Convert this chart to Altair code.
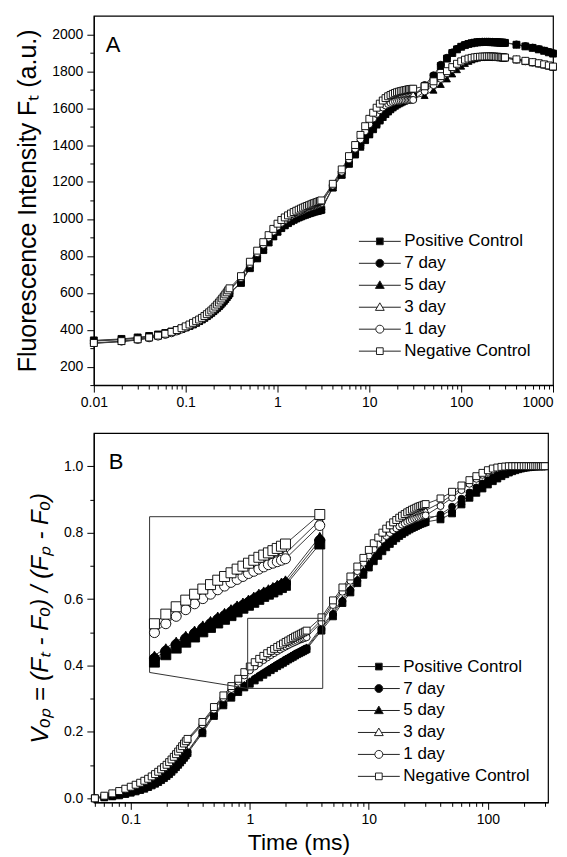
import math
import altair as alt
import pandas as pd

# ---------------------------------------------------------------- data
SERIES = ["Positive Control", "7 day", "5 day", "3 day", "1 day", "Negative Control"]
SHAPES = ["square", "circle", "triangle-up", "triangle-up", "circle", "square"]
FILLS = ["black", "black", "black", "white", "white", "white"]

# Panel A: time (ms) and fluorescence Ft (a.u.)
TIME_A = [0.01, 0.02, 0.03, 0.04, 0.05, 0.06, 0.07, 0.08, 0.09, 0.10,
          0.11, 0.12, 0.13, 0.14, 0.15, 0.16, 0.17, 0.18, 0.19, 0.20,
          0.21, 0.22, 0.23, 0.24, 0.25, 0.26, 0.27, 0.28, 0.29, 0.30,
          0.4, 0.5, 0.6, 0.7, 0.8, 0.9, 1.0, 1.1, 1.2, 1.3, 1.4, 1.5, 1.6, 1.7,
          1.8, 1.9, 2.0, 2.1, 2.2, 2.3, 2.4, 2.5, 2.6, 2.7, 2.8, 2.9, 3.0,
          4, 5, 6, 7, 8, 9, 10, 11, 12, 13, 14, 15, 16, 17, 18, 19, 20,
          21, 22, 23, 24, 25, 26, 27, 28, 29, 30,
          40, 50, 60, 70, 80, 90, 100, 110, 120, 130, 140, 150, 160, 170, 180,
          190, 200, 210, 220, 230, 240, 250, 260, 270, 280, 290, 300,
          400, 500, 600, 700, 800, 900, 1000]

FA_PC = [342, 350, 358, 366, 374, 382, 390, 398, 406, 414, 422, 430, 439, 448, 457,
         466, 475, 484, 493, 502, 511, 520, 529, 538, 548, 558, 568, 578, 588, 598,
         653, 733, 786, 831, 872, 905, 930, 950, 965, 977, 987, 995, 1002, 1008,
         1013, 1018, 1022, 1026, 1030, 1033, 1036, 1039, 1041, 1043, 1045, 1047, 1049,
         1170, 1240, 1300, 1352, 1395, 1430, 1460, 1490, 1515, 1537, 1556, 1572, 1586,
         1598, 1608, 1617, 1624, 1630, 1636, 1641, 1645, 1649, 1652, 1655, 1658, 1660, 1662,
         1718, 1770, 1828, 1868, 1898, 1918, 1932, 1941, 1947, 1951, 1954, 1956, 1957,
         1958, 1958, 1958, 1958, 1957, 1957, 1956, 1956, 1955, 1955, 1954, 1954, 1953, 1953,
         1943, 1934, 1926, 1918, 1910, 1902, 1895]
FA_D7 = [340, 348, 356, 364, 372, 380, 388, 396, 404, 412, 420, 428, 437, 446, 455,
         464, 473, 482, 491, 500, 509, 518, 527, 536, 546, 556, 566, 576, 586, 596,
         658, 738, 790, 835, 875, 908, 933, 953, 968, 980, 990, 998, 1005, 1011,
         1016, 1021, 1025, 1029, 1033, 1036, 1039, 1042, 1044, 1046, 1048, 1050, 1052,
         1172, 1244, 1305, 1356, 1399, 1435, 1465, 1494, 1519, 1541, 1560, 1576, 1590,
         1602, 1612, 1621, 1628, 1634, 1639, 1644, 1648, 1652, 1655, 1658, 1661, 1663, 1665,
         1725, 1778, 1835, 1873, 1902, 1921, 1934, 1943, 1949, 1953, 1956, 1958, 1959,
         1960, 1960, 1960, 1960, 1959, 1959, 1958, 1958, 1957, 1957, 1956, 1956, 1955, 1955,
         1945, 1936, 1928, 1920, 1912, 1905, 1898]
FA_D5 = [338, 346, 354, 362, 370, 378, 386, 394, 402, 410, 418, 426, 435, 444, 453,
         462, 471, 480, 489, 498, 507, 516, 525, 534, 544, 554, 564, 574, 584, 594,
         655, 735, 788, 833, 873, 906, 931, 951, 966, 978, 988, 996, 1003, 1009,
         1014, 1019, 1023, 1027, 1031, 1034, 1037, 1040, 1042, 1044, 1046, 1048, 1050,
         1168, 1236, 1296, 1346, 1388, 1424, 1455, 1483, 1508, 1530, 1549, 1565, 1579,
         1591, 1601, 1610, 1617, 1623, 1628, 1633, 1637, 1641, 1644, 1647, 1650, 1652, 1654,
         1668, 1697, 1728, 1758, 1785, 1808, 1827, 1842, 1853, 1861, 1867, 1871, 1874,
         1876, 1878, 1879, 1880, 1880, 1880, 1879, 1879, 1878, 1878, 1877, 1877, 1876, 1876,
         1867, 1859, 1852, 1846, 1840, 1834, 1829]
FA_D3 = [327, 336, 346, 356, 365, 375, 384, 394, 404, 414, 424, 433, 442, 451, 460,
         470, 480, 490, 500, 510, 520, 531, 542, 553, 564, 575, 586, 596, 606, 616,
         684, 760, 820, 866, 904, 938, 965, 985, 1000, 1012, 1022, 1030, 1037, 1043,
         1049, 1054, 1058, 1062, 1066, 1070, 1073, 1076, 1079, 1082, 1085, 1088, 1091,
         1184, 1260, 1330, 1390, 1442, 1488, 1527, 1559, 1585, 1606, 1622, 1634, 1643,
         1650, 1655, 1659, 1662, 1665, 1667, 1669, 1670, 1671, 1672, 1673, 1674, 1674, 1675,
         1702, 1733, 1763, 1792, 1815, 1834, 1848, 1858, 1864, 1868, 1871, 1873, 1874,
         1875, 1875, 1876, 1876, 1876, 1875, 1875, 1874, 1874, 1873, 1873, 1872, 1871, 1871,
         1861, 1852, 1845, 1839, 1833, 1827, 1821]
FA_D1 = [326, 335, 344, 353, 362, 371, 380, 390, 400, 410, 420, 429, 438, 447, 456,
         465, 475, 485, 495, 505, 515, 526, 537, 548, 559, 570, 581, 591, 601, 611,
         680, 755, 814, 860, 898, 931, 958, 978, 993, 1005, 1015, 1023, 1030, 1036,
         1042, 1047, 1052, 1056, 1060, 1064, 1067, 1070, 1073, 1076, 1079, 1082, 1085,
         1180, 1255, 1322, 1380, 1430, 1474, 1512, 1543, 1568, 1588, 1603, 1614, 1622,
         1628, 1632, 1635, 1637, 1639, 1640, 1641, 1642, 1642, 1643, 1643, 1643, 1644, 1644,
         1690, 1724, 1758, 1788, 1812, 1832, 1847, 1858, 1865, 1869, 1872, 1874, 1875,
         1876, 1876, 1877, 1877, 1877, 1876, 1876, 1875, 1875, 1874, 1874, 1873, 1872, 1872,
         1862, 1853, 1846, 1840, 1834, 1828, 1822]
FA_NC = [328, 338, 348, 358, 368, 378, 388, 398, 408, 418, 428, 437, 446, 455, 464,
         474, 484, 494, 504, 514, 525, 536, 547, 558, 569, 580, 591, 602, 613, 624,
         690, 768, 828, 874, 912, 946, 974, 994, 1008, 1019, 1029, 1037, 1044, 1050,
         1056, 1061, 1066, 1070, 1074, 1078, 1082, 1085, 1088, 1091, 1094, 1097, 1100,
         1190, 1268, 1340, 1400, 1455, 1502, 1542, 1575, 1602, 1624, 1641, 1654, 1664,
         1671, 1677, 1682, 1686, 1689, 1692, 1694, 1696, 1698, 1700, 1702, 1703, 1704, 1705,
         1718, 1745, 1773, 1800, 1822, 1840, 1853, 1862, 1868, 1872, 1875, 1877, 1878,
         1879, 1879, 1880, 1880, 1880, 1879, 1879, 1878, 1878, 1877, 1876, 1876, 1875, 1874,
         1864, 1856, 1849, 1843, 1837, 1831, 1825]

# Panel B: time (ms) and relative variable fluorescence V_OP
TIME_B = [0.05, 0.06, 0.07, 0.08, 0.09, 0.10,
          0.11, 0.12, 0.13, 0.14, 0.15, 0.16, 0.17, 0.18, 0.19, 0.20,
          0.21, 0.22, 0.23, 0.24, 0.25, 0.26, 0.27, 0.28, 0.29, 0.30,
          0.4, 0.5, 0.6, 0.7, 0.8, 0.9, 1.0, 1.1, 1.2, 1.3, 1.4, 1.5, 1.6, 1.7,
          1.8, 1.9, 2.0, 2.1, 2.2, 2.3, 2.4, 2.5, 2.6, 2.7, 2.8, 2.9, 3.0,
          4, 5, 6, 7, 8, 9, 10, 11, 12, 13, 14, 15, 16, 17, 18, 19, 20,
          21, 22, 23, 24, 25, 26, 27, 28, 29, 30,
          40, 50, 60, 70, 80, 90, 100, 110, 120, 130, 140, 150, 160, 170, 180,
          190, 200, 210, 220, 230, 240, 250, 260, 270, 280, 290, 300]

VB_PC = [0.000, 0.003, 0.006, 0.009, 0.013, 0.017, 0.021, 0.025, 0.029, 0.034, 0.039, 0.044, 0.049,
         0.055, 0.061, 0.067, 0.073, 0.080, 0.087, 0.094, 0.101, 0.108, 0.115, 0.122, 0.129, 0.136,
         0.196, 0.248, 0.280, 0.303, 0.320, 0.334, 0.345, 0.355, 0.364, 0.372, 0.379, 0.386, 0.392,
         0.398, 0.403, 0.408, 0.413, 0.418, 0.422, 0.426, 0.430, 0.434, 0.437, 0.440, 0.443, 0.446, 0.449,
         0.505, 0.548, 0.588, 0.620, 0.648, 0.673, 0.695, 0.714, 0.730, 0.744, 0.756, 0.766, 0.775,
         0.783, 0.790, 0.796, 0.801, 0.806, 0.810, 0.814, 0.817, 0.820, 0.823, 0.826, 0.828, 0.830, 0.832,
         0.840, 0.858, 0.885, 0.905, 0.920, 0.933, 0.945, 0.955, 0.963, 0.970, 0.976, 0.981, 0.985,
         0.988, 0.991, 0.993, 0.995, 0.996, 0.997, 0.998, 0.999, 0.999, 1.000, 1.000, 1.000, 1.000, 1.000]
VB_D7 = [0.000, 0.004, 0.007, 0.011, 0.015, 0.019, 0.023, 0.027, 0.032, 0.037, 0.042, 0.047, 0.052,
         0.058, 0.064, 0.070, 0.076, 0.083, 0.090, 0.097, 0.104, 0.111, 0.118, 0.125, 0.132, 0.139,
         0.200, 0.252, 0.284, 0.307, 0.325, 0.339, 0.350, 0.360, 0.369, 0.377, 0.384, 0.391, 0.397,
         0.403, 0.408, 0.413, 0.418, 0.422, 0.426, 0.430, 0.434, 0.437, 0.440, 0.443, 0.446, 0.449, 0.452,
         0.510, 0.555, 0.594, 0.627, 0.655, 0.680, 0.702, 0.721, 0.737, 0.751, 0.763, 0.773, 0.782,
         0.790, 0.797, 0.803, 0.808, 0.813, 0.817, 0.821, 0.824, 0.827, 0.830, 0.833, 0.835, 0.837, 0.839,
         0.855, 0.878, 0.902, 0.921, 0.936, 0.948, 0.958, 0.966, 0.973, 0.979, 0.984, 0.988, 0.991,
         0.993, 0.995, 0.996, 0.997, 0.998, 0.999, 0.999, 1.000, 1.000, 1.000, 1.000, 1.000, 1.000, 1.000]
VB_D5 = [0.000, 0.004, 0.008, 0.012, 0.016, 0.020, 0.024, 0.028, 0.033, 0.038, 0.043, 0.048, 0.054,
         0.060, 0.066, 0.072, 0.078, 0.085, 0.092, 0.099, 0.106, 0.113, 0.120, 0.127, 0.134, 0.141,
         0.204, 0.256, 0.288, 0.311, 0.329, 0.343, 0.354, 0.364, 0.373, 0.381, 0.388, 0.395, 0.401,
         0.407, 0.412, 0.417, 0.422, 0.426, 0.430, 0.434, 0.438, 0.441, 0.444, 0.447, 0.450, 0.453, 0.456,
         0.515, 0.560, 0.600, 0.633, 0.662, 0.687, 0.709, 0.728, 0.744, 0.758, 0.770, 0.780, 0.789,
         0.797, 0.804, 0.810, 0.815, 0.820, 0.824, 0.828, 0.831, 0.834, 0.837, 0.840, 0.842, 0.844, 0.846,
         0.850, 0.870, 0.893, 0.913, 0.930, 0.944, 0.955, 0.964, 0.972, 0.978, 0.983, 0.987, 0.990,
         0.993, 0.995, 0.996, 0.997, 0.998, 0.999, 0.999, 1.000, 1.000, 1.000, 1.000, 1.000, 1.000, 1.000]
VB_D3 = [0.000, 0.007, 0.014, 0.021, 0.028, 0.034, 0.040, 0.046, 0.052, 0.058, 0.064, 0.071, 0.078,
         0.085, 0.092, 0.099, 0.107, 0.115, 0.123, 0.131, 0.139, 0.147, 0.155, 0.162, 0.169, 0.176,
         0.226, 0.271, 0.306, 0.333, 0.355, 0.375, 0.391, 0.403, 0.413, 0.422, 0.430, 0.437, 0.443,
         0.449, 0.454, 0.459, 0.463, 0.467, 0.471, 0.474, 0.477, 0.480, 0.483, 0.486, 0.488, 0.490, 0.492,
         0.537, 0.589, 0.628, 0.661, 0.690, 0.716, 0.739, 0.758, 0.774, 0.788, 0.800, 0.809, 0.817,
         0.824, 0.830, 0.835, 0.840, 0.844, 0.848, 0.851, 0.854, 0.857, 0.859, 0.861, 0.863, 0.865, 0.867,
         0.890, 0.913, 0.934, 0.952, 0.966, 0.977, 0.985, 0.991, 0.995, 0.997, 0.999, 1.000, 1.000,
         1.000, 1.000, 1.000, 1.000, 1.000, 1.000, 1.000, 1.000, 1.000, 1.000, 1.000, 1.000, 1.000, 1.000]
VB_D1 = [0.000, 0.007, 0.014, 0.021, 0.027, 0.033, 0.039, 0.045, 0.051, 0.057, 0.063, 0.070, 0.077,
         0.084, 0.091, 0.098, 0.105, 0.113, 0.121, 0.129, 0.137, 0.145, 0.153, 0.160, 0.167, 0.174,
         0.222, 0.267, 0.302, 0.329, 0.351, 0.370, 0.385, 0.397, 0.407, 0.416, 0.424, 0.431, 0.437,
         0.443, 0.448, 0.453, 0.457, 0.461, 0.465, 0.468, 0.471, 0.474, 0.477, 0.479, 0.481, 0.483, 0.485,
         0.530, 0.582, 0.622, 0.655, 0.684, 0.709, 0.731, 0.750, 0.766, 0.779, 0.790, 0.799, 0.807,
         0.813, 0.819, 0.824, 0.828, 0.832, 0.835, 0.838, 0.841, 0.843, 0.845, 0.847, 0.849, 0.851, 0.852,
         0.880, 0.905, 0.928, 0.947, 0.962, 0.974, 0.983, 0.989, 0.993, 0.996, 0.998, 0.999, 1.000,
         1.000, 1.000, 1.000, 1.000, 1.000, 1.000, 1.000, 1.000, 1.000, 1.000, 1.000, 1.000, 1.000, 1.000]
VB_NC = [0.000, 0.008, 0.015, 0.022, 0.029, 0.035, 0.041, 0.047, 0.053, 0.059, 0.066, 0.073, 0.080,
         0.087, 0.094, 0.101, 0.109, 0.117, 0.125, 0.133, 0.141, 0.149, 0.157, 0.165, 0.172, 0.179,
         0.230, 0.275, 0.310, 0.338, 0.360, 0.380, 0.397, 0.410, 0.420, 0.429, 0.437, 0.444, 0.450,
         0.456, 0.461, 0.466, 0.471, 0.475, 0.479, 0.483, 0.487, 0.490, 0.493, 0.496, 0.499, 0.502, 0.505,
         0.545, 0.596, 0.635, 0.668, 0.698, 0.724, 0.748, 0.768, 0.785, 0.800, 0.812, 0.822, 0.831,
         0.838, 0.845, 0.851, 0.856, 0.861, 0.865, 0.869, 0.872, 0.875, 0.878, 0.880, 0.882, 0.884, 0.886,
         0.903, 0.923, 0.942, 0.958, 0.970, 0.980, 0.988, 0.993, 0.996, 0.998, 0.999, 1.000, 1.000,
         1.000, 1.000, 1.000, 1.000, 1.000, 1.000, 1.000, 1.000, 1.000, 1.000, 1.000, 1.000, 1.000, 1.000]

# axis tick values
XT_A = [0.01, 0.02, 0.03, 0.04, 0.05, 0.06, 0.07, 0.08, 0.09, 0.1, 0.2, 0.3, 0.4, 0.5, 0.6, 0.7,
        0.8, 0.9, 1, 2, 3, 4, 5, 6, 7, 8, 9, 10, 20, 30, 40, 50, 60, 70, 80, 90, 100, 200, 300,
        400, 500, 600, 700, 800, 900, 1000]
XT_B = [0.05, 0.06, 0.07, 0.08, 0.09, 0.1, 0.2, 0.3, 0.4, 0.5, 0.6, 0.7, 0.8, 0.9, 1, 2, 3, 4,
        5, 6, 7, 8, 9, 10, 20, 30, 40, 50, 60, 70, 80, 90, 100, 200, 300]
YT_A = [100, 200, 300, 400, 500, 600, 700, 800, 900, 1000, 1100, 1200, 1300, 1400, 1500,
        1600, 1700, 1800, 1900, 2000]
YT_B = [0.0, 0.1, 0.2, 0.3, 0.4, 0.5, 0.6, 0.7, 0.8, 0.9, 1.0]

# panel letters (data coordinates)
LETTER_A = {"t": [0.0135], "v": [1943], "text": ["A"]}
LETTER_B = {"t": [0.0654], "v": [1.014], "text": ["B"]}

# zoom region and inset frame of panel B (data coordinates of panel B)
ZOOM_T = [0.96, 4.1]
ZOOM_V = [0.331, 0.542]
INSET_T = [0.144, 4.1]
INSET_V = [0.379, 0.848]

# ---------------------------------------------------------------- layout constants
FONT = "Liberation Sans"
W_A, H_A = 460, 370
W_B, H_B = 455, 370
XDOM_A, YDOM_A = [0.01, 1000], [100, 2100]
XDOM_B, YDOM_B = [0.049, 320], [-0.012, 1.1]


def long_df(times, cols):
    rows = []
    for name, vals in zip(SERIES, cols):
        if len(vals) != len(times):
            raise ValueError(f"{name}: {len(vals)} values for {len(times)} times")
        for t, v in zip(times, vals):
            rows.append({"t": t, "v": v, "series": name})
    return pd.DataFrame(rows)


dfA = long_df(TIME_A, [FA_PC, FA_D7, FA_D5, FA_D3, FA_D1, FA_NC])
dfB = long_df(TIME_B, [VB_PC, VB_D7, VB_D5, VB_D3, VB_D1, VB_NC])

LOG_MAJOR = "abs(log(datum.value)/LN10 - round(log(datum.value)/LN10)) < 1e-6"
A_MAJOR = "datum.value % 200 == 0"
B_MAJOR = "abs(datum.value*5 - round(datum.value*5)) < 1e-6"


def tick_size(test):
    return {"condition": {"test": test, "value": 7}, "value": 4}


def x_axis(values, **kw):
    return alt.Axis(values=values, format="~g", labelExpr=f"{LOG_MAJOR} ? datum.label : ''",
                    tickSize=tick_size(LOG_MAJOR), labelFlush=False, labelOverlap=False,
                    grid=False, labelPadding=3,
                    labelAlign={"condition": {"test": "datum.value >= 1000", "value": "right"},
                                "value": "center"},
                    **kw)


def y_axis(values, fmt, test, title, **kw):
    return alt.Axis(values=values, format=fmt, labelExpr=f"{test} ? datum.label : ''",
                    tickSize=tick_size(test), labelFlush=False, labelOverlap=False,
                    grid=False, labelPadding=4, title=title, **kw)


shape_scale = alt.Scale(domain=SERIES, range=SHAPES)
fill_scale = alt.Scale(domain=SERIES, range=FILLS)

# legend symbols: line with the marker in the middle (custom SVG paths)
SQ = "M-1,0H-0.16M0.16,0H1M-0.16,-0.16H0.16V0.16H-0.16Z"
CI = "M-1,0H-0.19M0.19,0H1M-0.19,0A0.19,0.19 0 1,0 0.19,0A0.19,0.19 0 1,0 -0.19,0Z"
TR = "M-1,0H-0.12M0.12,0H1M0,-0.21L0.21,0.15L-0.21,0.15Z"
LEGEND_PATHS = [SQ, CI, TR, TR, CI, SQ]
LEG_SIZE = 42 * 42


def legend_layer(lx, ly):
    leg = alt.Legend(title=None, orient="none", legendX=lx, legendY=ly, symbolSize=LEG_SIZE,
                     labelFontSize=17, labelFont=FONT, labelColor="black", labelOffset=3,
                     rowPadding=0, padding=0, labelLimit=0, symbolStrokeWidth=1,
                     clipHeight=22)
    return alt.Chart(pd.DataFrame({"series": SERIES})).mark_point(
        filled=True, size=LEG_SIZE, strokeWidth=1, opacity=1
    ).encode(
        shape=alt.Shape("series:N", scale=alt.Scale(domain=SERIES, range=LEGEND_PATHS), legend=leg),
        fill=alt.Fill("series:N", scale=alt.Scale(domain=SERIES, range=FILLS), legend=leg),
        stroke=alt.Stroke("series:N", scale=alt.Scale(domain=SERIES, range=["#222222"] * 6),
                          legend=leg),
    ).transform_filter("false")


def series_layers(df, x, y, size):
    lines = alt.Chart(df).mark_line(color="#3c3c3c", strokeWidth=1).encode(
        x=x, y=y, detail="series:N")
    pts = alt.Chart(df).mark_point(filled=True, size=size, stroke="black", strokeWidth=0.9,
                                   opacity=1).encode(
        x=x, y=y,
        shape=alt.Shape("series:N", scale=shape_scale, legend=None),
        fill=alt.Fill("series:N", scale=fill_scale, legend=None),
    )
    return lines, pts


def letter(d, x, y):
    return alt.Chart(pd.DataFrame(d)).mark_text(
        align="left", baseline="middle", fontSize=22, font=FONT, color="black"
    ).encode(x=x, y=y, text="text:N")


# ---------------------------------------------------------------- panel A
xA = alt.X("t:Q", scale=alt.Scale(type="log", domain=XDOM_A, nice=False), axis=x_axis(XT_A, title=None))
yA = alt.Y("v:Q", scale=alt.Scale(domain=YDOM_A, nice=False, zero=False),
           axis=y_axis(YT_A, "d", A_MAJOR, "Fluorescence Intensity Fₜ (a.u.)",
                       titleFontSize=25, titlePadding=11))
linesA, ptsA = series_layers(dfA, xA, yA, 48)
panelA = alt.layer(
    alt.layer(linesA, ptsA, letter(LETTER_A, xA, yA)),
    legend_layer(265, 215),
).resolve_scale(shape="independent", fill="independent", stroke="independent").properties(
    width=W_A, height=H_A)

# ---------------------------------------------------------------- panel B
xB = alt.X("t:Q", scale=alt.Scale(type="log", domain=XDOM_B, nice=False),
           axis=x_axis(XT_B, title="Time (ms)", titleFontSize=23, titleX=205, titlePadding=5))
yB = alt.Y("v:Q", scale=alt.Scale(domain=YDOM_B, nice=False, zero=False),
           axis=y_axis(YT_B, ".1f", B_MAJOR, "Vₒₚ = (Fₜ - Fₒ) / (Fₚ - Fₒ)",
                       titleFontSize=24, titleFontStyle="italic", titlePadding=11))
linesB, ptsB = series_layers(dfB, xB, yB, 48)

segs = pd.DataFrame({
    "t":  [ZOOM_T[0], ZOOM_T[0], ZOOM_T[0], ZOOM_T[1], INSET_T[0], INSET_T[0], INSET_T[0]],
    "v":  [ZOOM_V[0], ZOOM_V[1], ZOOM_V[0], ZOOM_V[0], INSET_V[1], INSET_V[0], INSET_V[0]],
    "t2": [ZOOM_T[0], ZOOM_T[1], ZOOM_T[1], ZOOM_T[1], INSET_T[1], INSET_T[0], ZOOM_T[0]],
    "v2": [ZOOM_V[1], ZOOM_V[1], ZOOM_V[0], INSET_V[1], INSET_V[1], INSET_V[1], ZOOM_V[0]],
})
boxes = alt.Chart(segs).mark_rule(color="#333333", strokeWidth=1).encode(
    x=xB, y=yB, x2="t2:Q", y2="v2:Q")


def px_x(t):
    return W_B * math.log10(t / XDOM_B[0]) / math.log10(XDOM_B[1] / XDOM_B[0])


def px_y(v):
    return H_B * (YDOM_B[1] - v) / (YDOM_B[1] - YDOM_B[0])


dfI = dfB[(dfB["t"] >= 0.95) & (dfB["t"] <= 4.05)]
xI = alt.X("t:Q", scale=alt.Scale(type="log", domain=ZOOM_T, nice=False,
                                  range=[px_x(INSET_T[0]), px_x(INSET_T[1])]), axis=None)
yI = alt.Y("v:Q", scale=alt.Scale(domain=ZOOM_V, nice=False, zero=False,
                                  range=[px_y(INSET_V[0]), px_y(INSET_V[1])]), axis=None)
linesI, ptsI = series_layers(dfI, xI, yI, 100)

panelB = alt.layer(
    alt.layer(linesB, ptsB, boxes, letter(LETTER_B, xB, yB)),
    legend_layer(264, 223),
    alt.layer(linesI, ptsI),
).resolve_scale(x="independent", y="independent", shape="independent",
                fill="independent", stroke="independent").properties(width=W_B, height=H_B)

chart = alt.vconcat(panelA, panelB, spacing=22).properties(
    padding={"left": 7, "top": 6, "right": 0, "bottom": 0}
).configure(font=FONT).configure_view(
    stroke="black", strokeWidth=1.2
).configure_axis(
    domainColor="black", domainWidth=1.2, tickColor="black", tickWidth=1,
    labelColor="black", titleColor="black", labelFont=FONT, titleFont=FONT,
    titleFontWeight="normal", labelFontSize=14,
)

chart.save("out.html", embed_options={"renderer": "svg", "actions": False})
